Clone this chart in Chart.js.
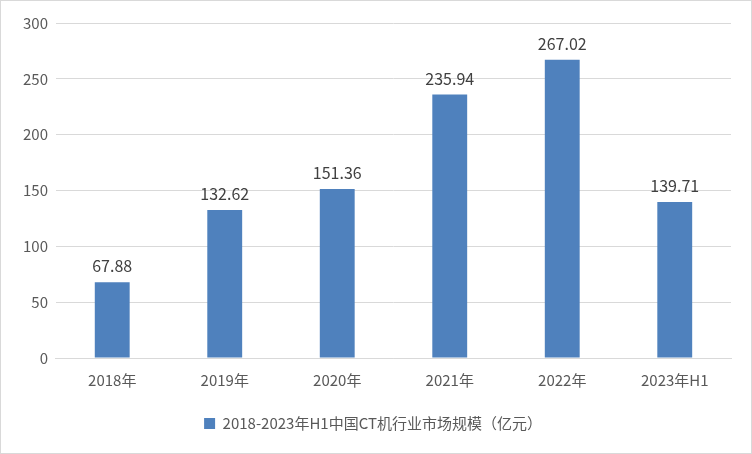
<!DOCTYPE html><html><head><meta charset="utf-8">
<script src="https://cdn.jsdelivr.net/npm/chart.js@4"></script>
<style>html,body{margin:0;background:#fff}#w{width:750px;height:452px;border:1px solid #d9d9d9;position:relative}</style>
</head><body><div id="w"><canvas id="c"></canvas></div>
<script>
const categories=["2018年","2019年","2020年","2021年","2022年","2023年H1"];
const values=[67.88,132.62,151.36,235.94,267.02,139.71];
const seriesName="2018-2023年H1中国CT机行业市场规模（亿元）";
const labelPlugin={id:'lbl',afterDatasetsDraw(ch){const c=ch.ctx;const m=ch.getDatasetMeta(0);c.save();c.font='16px "Noto Sans CJK SC", sans-serif';c.fillStyle='#404040';c.textAlign='center';c.textBaseline='bottom';m.data.forEach((b,i)=>c.fillText(values[i].toFixed(2),b.x,b.y-8));c.restore();}};
new Chart(document.getElementById('c'),{type:'bar',data:{labels:categories,datasets:[{label:seriesName,data:values,backgroundColor:'#4f81bd',barPercentage:0.31,categoryPercentage:1}]},
options:{responsive:true,maintainAspectRatio:false,animation:false,layout:{padding:{left:14,right:20,top:22,bottom:12}},
scales:{y:{min:0,max:300,ticks:{stepSize:50,color:'#595959',font:{size:15,family:'"Noto Sans CJK SC", sans-serif'},padding:8},grid:{color:'#d9d9d9',drawTicks:false},border:{display:false}},
x:{ticks:{color:'#595959',font:{size:15,family:'"Noto Sans CJK SC", sans-serif'},padding:5},grid:{display:false},border:{color:'#d9d9d9'}}},
plugins:{legend:{position:'bottom',labels:{color:'#595959',boxWidth:11,boxHeight:11,padding:22,font:{size:15,family:'"Noto Sans CJK SC", sans-serif'}}},tooltip:{enabled:false}}},plugins:[labelPlugin]});
</script></body></html>
